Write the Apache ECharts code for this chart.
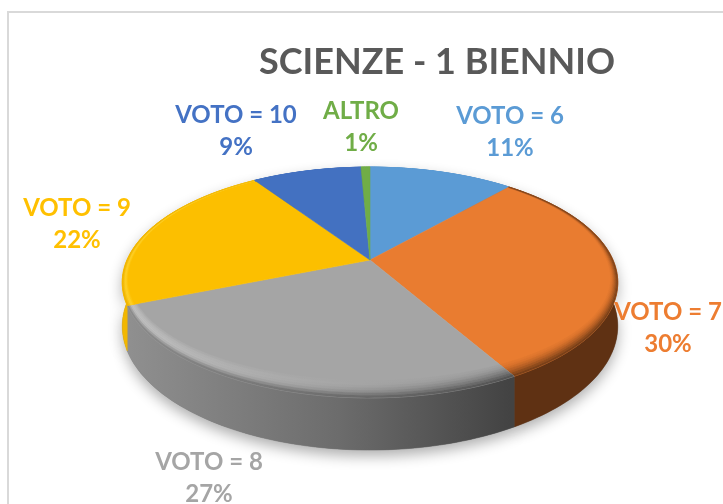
<!DOCTYPE html>
<html>
<head>
<meta charset="utf-8">
<style>
  html, body { margin: 0; padding: 0; background: #fff; }
  #chart { width: 723px; height: 504px; }
</style>
<script src="https://cdn.jsdelivr.net/npm/echarts@6/dist/echarts.min.js"></script>
</head>
<body>
<div id="chart"></div>
<script>
const categories = ["VOTO = 6", "VOTO = 7", "VOTO = 8", "VOTO = 9", "VOTO = 10", "ALTRO"];
const shares = [11.4, 30.4, 27, 21.9, 8.6, 0.7];

const colors = ["#5b9bd5", "#e97c30", "#a5a5a5", "#fcbf00", "#4371c1", "#70ad47"];
const labelColors = ["#5b9bd5", "#ed7d31", "#a5a5a5", "#ffc000", "#4472c4", "#70ad47"];
const labelCenters = [[510, 132], [668, 328], [209, 478], [77, 224], [236, 131], [361, 127]];

// rim shading, inner to outer, [left end, right end] of the pie
const bevels = [
    [["#5b9bd5", "#5b9bd5"], ["#5b9bd5", "#5b9bd5"]],
    [["#e97c30", "#d9722b", "#b05c22", "#7a4018"], ["#e97c30", "#d9722b", "#b05c22", "#7a4018"]],
    [["#a5a5a5", "#bababa", "#c4c4c4", "#8c8c8c"], ["#a5a5a5", "#8e8e8e", "#666666", "#454545"]],
    [["#fcbf00", "#fcbf00", "#ffd42e", "#f0b400"], ["#fcbf00", "#fcbf00", "#ffd42e", "#f0b400"]],
    [["#4371c1", "#4371c1"], ["#4371c1", "#4371c1"]],
    [["#70ad47", "#70ad47"], ["#70ad47", "#70ad47"]],
];

// perspective of the pie disc
const view = { cx: 370, cy: 260, a: 243, b: 111, k: 0.195, depth: 42, xLeft: 122, xRight: 618 };
const BAND_COUNT = 8;
const BAND_WIDTH = 0.12;

const total = shares.reduce((s, v) => s + v, 0);
const edges = [0];
shares.forEach((v) => edges.push(edges[edges.length - 1] + (v / total) * Math.PI * 2));

function project(theta, r, lowered) {
    const u = r * Math.sin(theta);
    const v = -r * Math.cos(theta);
    const w = 1 - view.k * v;
    return [
        view.cx + (view.a * u) / w,
        view.cy + (view.b * v) / w + (lowered ? view.depth / w : 0),
    ];
}

// the bevel is thin at the back of the disc and wide at the front
function bandRadius(theta, t) {
    const v = -Math.cos(theta);
    const f = v < 0 ? 0.05 + 0.2 * (1 + v) : 0.25 + 0.75 * v * v;
    return 1 - BAND_WIDTH * f * (1 - t);
}

function arc(i, radius, lowered) {
    const steps = Math.max(4, Math.ceil((edges[i + 1] - edges[i]) * 40));
    const pts = [];
    for (let s = 0; s <= steps; s++) {
        const theta = edges[i] + ((edges[i + 1] - edges[i]) * s) / steps;
        pts.push(project(theta, radius(theta), lowered));
    }
    return pts;
}

const rim = () => 1;

function wallPoints(i) {
    return arc(i, rim, false).concat(arc(i, rim, true).reverse());
}

const horizontal = (c) => new echarts.graphic.LinearGradient(view.xLeft, 0, view.xRight, 0, c, true);

const wallFills = [
    "#3b6a96",
    "#5f3113",
    new echarts.graphic.LinearGradient(130, 0, 510, 0, [
        { offset: 0, color: "#8f8f8f" },
        { offset: 0.55, color: "#6c6c6c" },
        { offset: 1, color: "#434343" },
    ], true),
    "#f2b700",
    "#2f5597",
    "#4e7a31",
];

function renderShadow(params) {
    return {
        type: "polygon",
        shape: { points: wallPoints(params.dataIndex) },
        silent: true,
        style: {
            fill: "#777",
            shadowBlur: 14,
            shadowOffsetY: 6,
            shadowColor: "rgba(0,0,0,0.32)",
        },
    };
}

function renderWall(params) {
    const fill = wallFills[params.dataIndex];
    return {
        type: "polygon",
        shape: { points: wallPoints(params.dataIndex) },
        silent: true,
        style: { fill: fill, stroke: fill, lineWidth: 0.5 },
    };
}

function renderTop(params) {
    const i = params.dataIndex;
    const children = [{
        type: "polygon",
        shape: { points: [project(0, 0, false)].concat(arc(i, rim, false)) },
        style: { fill: colors[i], stroke: colors[i], lineWidth: 0.6 },
    }];
    for (let b = 0; b < BAND_COUNT; b++) {
        const t = b / (BAND_COUNT - 1);
        const fill = horizontal([
            { offset: 0, color: echarts.color.lerp(t, bevels[i][0]) },
            { offset: 1, color: echarts.color.lerp(t, bevels[i][1]) },
        ]);
        const inner = (theta) => bandRadius(theta, b / BAND_COUNT);
        const outer = (theta) => bandRadius(theta, (b + 1) / BAND_COUNT);
        children.push({
            type: "polygon",
            shape: { points: arc(i, inner, false).concat(arc(i, outer, false).reverse()) },
            style: { fill: fill, stroke: fill, lineWidth: 0.4 },
        });
    }
    return { type: "group", silent: true, children: children };
}

function renderLabel(params, api) {
    const i = params.dataIndex;
    return {
        type: "text",
        silent: true,
        style: {
            x: labelCenters[i][0],
            y: labelCenters[i][1],
            text: categories[i] + "\n" + Math.round(api.value(0)) + "%",
            align: "center",
            verticalAlign: "middle",
            fill: labelColors[i],
            font: "bold 24px Lato",
            lineHeight: 32,
        },
    };
}

const customSeries = (renderItem, z) => ({
    type: "custom",
    coordinateSystem: "none",
    renderItem: renderItem,
    data: shares,
    z: z,
    animation: false,
    silent: true,
});

const chart = echarts.init(document.getElementById("chart"), null, { renderer: "canvas" });
chart.setOption({
    animation: false,
    backgroundColor: "#fff",
    title: {
        text: "SCIENZE - 1 BIENNIO",
        left: 432,
        top: 39,
        textAlign: "center",
        textStyle: { color: "#595959", fontFamily: "Lato", fontWeight: "bold", fontSize: 36 },
    },
    graphic: [{
        type: "rect",
        silent: true,
        z: 0,
        shape: { x: 8, y: 12, width: 800, height: 600 },
        style: { fill: "none", stroke: "#d9d9d9", lineWidth: 2 },
    }],
    series: [
        customSeries(renderShadow, 1),
        customSeries(renderWall, 2),
        customSeries(renderTop, 3),
        customSeries(renderLabel, 4),
    ],
});
</script>
</body>
</html>
